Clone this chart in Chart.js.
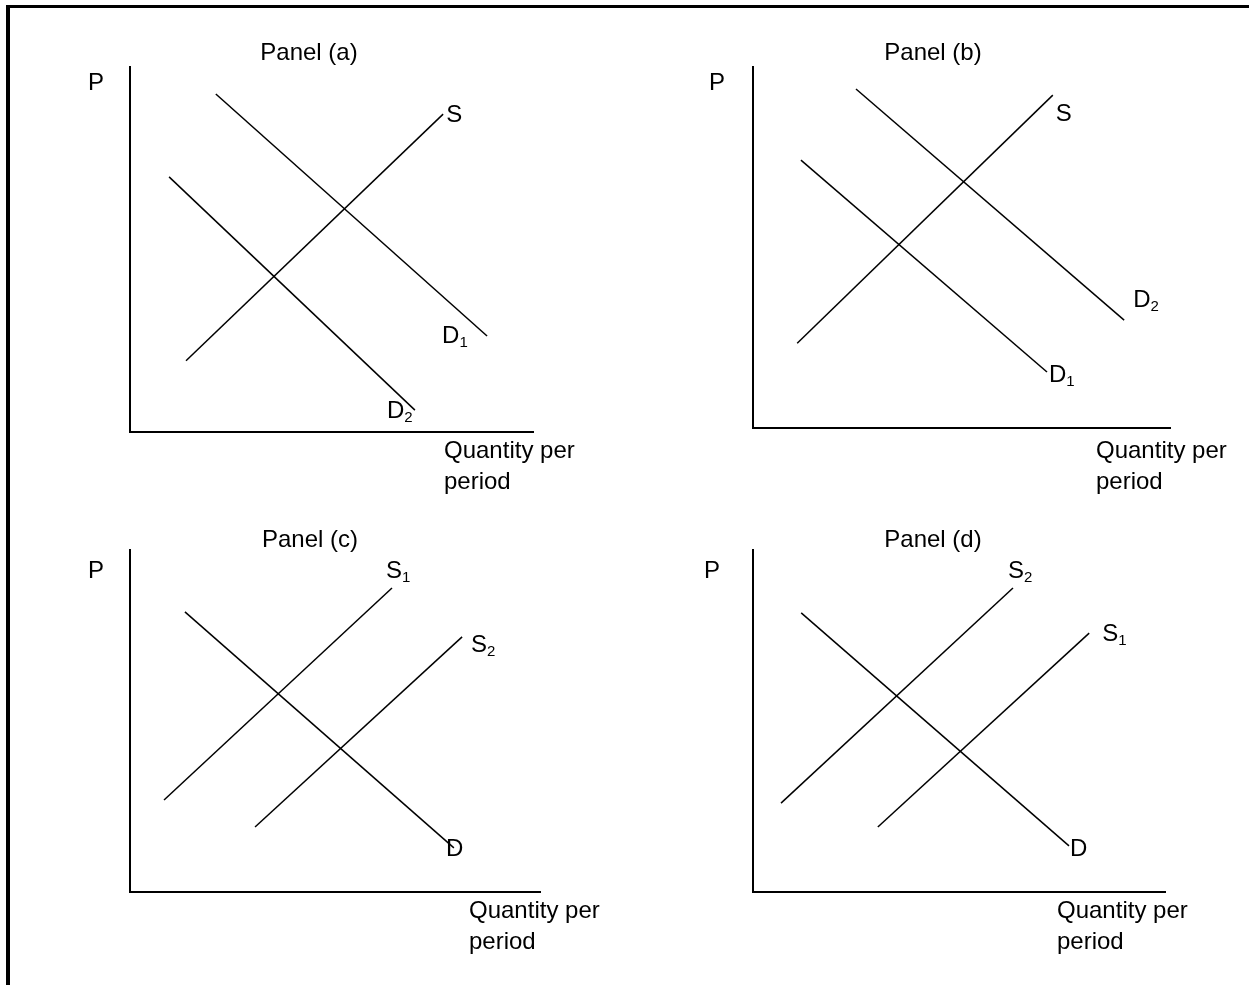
<!DOCTYPE html>
<html>
<head>
<meta charset="utf-8">
<script src="https://cdn.jsdelivr.net/npm/chart.js@4.4.1/dist/chart.umd.min.js"></script>
<style>
  html, body { margin: 0; padding: 0; background: #fff; }
  #page { position: relative; width: 1249px; height: 985px; overflow: hidden; }
  #frame { position: absolute; left: 6px; top: 5px; width: 1300px; height: 1000px;
           border-top: 3px solid #000; border-left: 4px solid #000; }
  canvas.panel { position: absolute; left: 0; top: 0; }
</style>
</head>
<body>
<div id="page">
  <div id="frame"></div>
  <canvas id="panelA" class="panel" width="1249" height="985"></canvas>
  <canvas id="panelB" class="panel" width="1249" height="985"></canvas>
  <canvas id="panelC" class="panel" width="1249" height="985"></canvas>
  <canvas id="panelD" class="panel" width="1249" height="985"></canvas>
</div>
<script>
// Textos
const panelTitles = ['Panel (a)', 'Panel (b)', 'Panel (c)', 'Panel (d)'];
const yAxisLabel = 'P';
const xAxisLabel = ['Quantity per', 'period'];

// Curvas: [cantidad, precio] en escala 0-100 de cada panel (inicio, fin)
const panelA_names = ['S', 'D1', 'D2'];
const panelA_S  = [[13.9, 19.5], [77.7, 87.1]];
const panelA_D1 = [[21.3, 92.6], [88.6, 26.3]];
const panelA_D2 = [[9.7, 69.9], [70.7, 6.0]];

const panelB_names = ['S', 'D1', 'D2'];
const panelB_S  = [[10.6, 23.5], [71.9, 92.2]];
const panelB_D1 = [[11.5, 74.2], [70.5, 15.5]];
const panelB_D2 = [[24.7, 93.9], [89.0, 29.9]];

const panelC_names = ['S1', 'S2', 'D'];
const panelC_S1 = [[8.3, 26.9], [63.9, 88.9]];
const panelC_S2 = [[30.5, 19.0], [81.0, 74.6]];
const panelC_D  = [[13.4, 81.9], [79.0, 12.9]];

const panelD_names = ['S2', 'S1', 'D'];
const panelD_S2 = [[6.8, 26.0], [63.1, 88.9]];
const panelD_S1 = [[30.3, 19.0], [81.6, 75.7]];
const panelD_D  = [[11.7, 81.6], [76.7, 13.5]];

const FONT = '24px "Liberation Sans", Arial, sans-serif';
const SUB_FONT = '15px "Liberation Sans", Arial, sans-serif';
const PAGE_W = 1249, PAGE_H = 985;

// Plugin para titulo, ejes y etiquetas de curvas
const panelText = {
  id: 'panelText',
  afterDatasetsDraw(chart, args, opts) {
    const {ctx, chartArea: a, scales: {x, y}} = chart;
    ctx.save();
    ctx.fillStyle = '#000';
    ctx.textBaseline = 'alphabetic';
    ctx.font = FONT;

    ctx.textAlign = 'center';
    ctx.fillText(opts.title, a.left + opts.titlePos[0], a.top + opts.titlePos[1]);

    ctx.textAlign = 'left';
    ctx.fillText(yAxisLabel, a.left + opts.pPos[0], a.top + opts.pPos[1]);
    xAxisLabel.forEach((t, i) => {
      ctx.fillText(t, a.right + opts.qPos[0], a.bottom + opts.qPos[1] + i * 31);
    });

    chart.data.datasets.forEach((ds, i) => {
      const end = ds.data[ds.data.length - 1];
      const px = x.getPixelForValue(end.x) + opts.offsets[i][0];
      const py = y.getPixelForValue(end.y) + opts.offsets[i][1];
      const base = ds.label.charAt(0);
      const sub = ds.label.slice(1);
      ctx.font = FONT;
      ctx.fillText(base, px, py);
      if (sub) {
        const w = ctx.measureText(base).width;
        ctx.font = SUB_FONT;
        ctx.fillText(sub, px + w, py + 4);
      }
    });
    ctx.restore();
  }
};

function makeDataset(name, pts) {
  return {
    label: name,
    data: pts.map(p => ({x: p[0], y: p[1]})),
    showLine: true,
    borderColor: '#000',
    borderWidth: 1.5,
    pointRadius: 0,
    clip: false
  };
}

function axis() {
  return {
    type: 'linear', min: 0, max: 100,
    grid: { display: false, drawTicks: false, tickLength: 0 },
    ticks: { display: false, padding: 0 },
    border: { display: true, color: '#000', width: 2 }
  };
}

function makePanel(id, box, names, curves, text) {
  new Chart(document.getElementById(id), {
    type: 'scatter',
    data: { datasets: curves.map((c, i) => makeDataset(names[i], c)) },
    options: {
      responsive: false,
      animation: false,
      events: [],
      layout: { padding: { left: box.l, top: box.t, right: PAGE_W - box.r, bottom: PAGE_H - box.b } },
      plugins: {
        legend: { display: false },
        tooltip: { enabled: false },
        panelText: text
      },
      scales: { x: axis(), y: axis() }
    },
    plugins: [panelText]
  });
}

makePanel('panelA', {l: 130, t: 67, r: 533, b: 432}, panelA_names,
  [panelA_S, panelA_D1, panelA_D2],
  { title: panelTitles[0], titlePos: [179, -7], pPos: [-42, 23], qPos: [-89, 26],
    offsets: [[3, 8], [-45, 7], [-28, 8]] });

makePanel('panelB', {l: 753, t: 67, r: 1170, b: 428}, panelB_names,
  [panelB_S, panelB_D1, panelB_D2],
  { title: panelTitles[1], titlePos: [180, -7], pPos: [-44, 23], qPos: [-74, 30],
    offsets: [[3, 26], [2, 10], [9, -13]] });

makePanel('panelC', {l: 130, t: 550, r: 540, b: 892}, panelC_names,
  [panelC_S1, panelC_S2, panelC_D],
  { title: panelTitles[2], titlePos: [180, -3], pPos: [-42, 28], qPos: [-71, 26],
    offsets: [[-6, -10], [9, 15], [-8, 8]] });

makePanel('panelD', {l: 753, t: 550, r: 1165, b: 892}, panelD_names,
  [panelD_S2, panelD_S1, panelD_D],
  { title: panelTitles[3], titlePos: [180, -3], pPos: [-49, 28], qPos: [-108, 26],
    offsets: [[-5, -10], [13, 8], [1, 10]] });
</script>
</body>
</html>
